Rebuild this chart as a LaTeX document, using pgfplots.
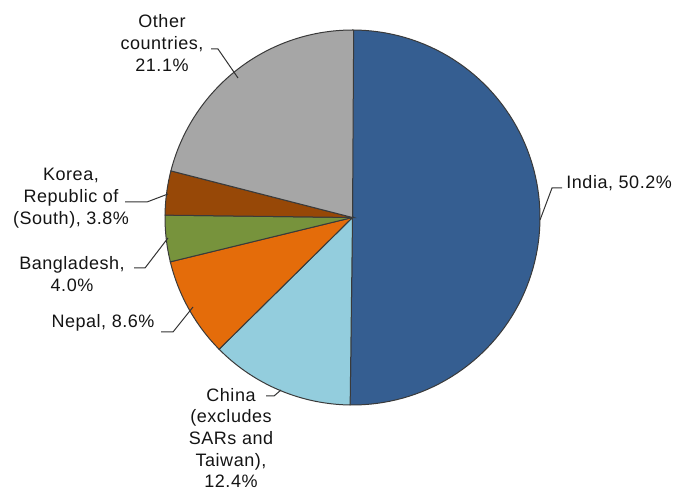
\documentclass[border=0pt]{standalone}
\usepackage{fontspec}
\setmainfont{Liberation Sans}[LetterSpace=3]
\usepackage{pgfplots}
\pgfplotsset{compat=1.18}

\definecolor{cIndia}{HTML}{355E91}
\definecolor{cChina}{HTML}{93CDDD}
\definecolor{cNepal}{HTML}{E46C0A}
\definecolor{cBangla}{HTML}{77933C}
\definecolor{cKorea}{HTML}{974807}
\definecolor{cOther}{HTML}{A6A6A6}
\definecolor{edge}{HTML}{3A3A3A}

% shares in percent
\def\shIndia{50.2}
\def\shChina{12.4}
\def\shNepal{8.6}
\def\shBangla{4.0}
\def\shKorea{3.8}
\def\shOther{21.1}

% cumulative angles, clockwise from the top
\pgfmathsetmacro\aA{90}
\pgfmathsetmacro\aB{\aA-3.6*\shIndia}
\pgfmathsetmacro\aC{\aB-3.6*\shChina}
\pgfmathsetmacro\aD{\aC-3.6*\shNepal}
\pgfmathsetmacro\aE{\aD-3.6*\shBangla}
\pgfmathsetmacro\aF{\aE-3.6*\shKorea}
\pgfmathsetmacro\aG{\aF-3.6*\shOther}

\def\cx{352.5}
\def\cy{275.5}
\def\R{187.5}

\begin{document}
\begin{tikzpicture}
\begin{axis}[
  width=337.5pt, height=246.5pt, scale only axis,
  xmin=0, xmax=675, ymin=0, ymax=493,
  hide axis, clip=false,
]
% fix the picture's extent to the full frame
\path (axis cs:0,0) rectangle (axis cs:675,493);

\addplot[fill=cIndia, draw=edge, line width=0.5pt, domain=\aB:\aA, samples=90, variable=\t]
  ({\cx+\R*cos(\t)},{\cy+\R*sin(\t)}) -- (axis cs:\cx,\cy) -- cycle;
\addplot[fill=cChina, draw=edge, line width=0.5pt, domain=\aC:\aB, samples=40, variable=\t]
  ({\cx+\R*cos(\t)},{\cy+\R*sin(\t)}) -- (axis cs:\cx,\cy) -- cycle;
\addplot[fill=cNepal, draw=edge, line width=0.5pt, domain=\aD:\aC, samples=30, variable=\t]
  ({\cx+\R*cos(\t)},{\cy+\R*sin(\t)}) -- (axis cs:\cx,\cy) -- cycle;
\addplot[fill=cBangla, draw=edge, line width=0.5pt, domain=\aE:\aD, samples=15, variable=\t]
  ({\cx+\R*cos(\t)},{\cy+\R*sin(\t)}) -- (axis cs:\cx,\cy) -- cycle;
\addplot[fill=cKorea, draw=edge, line width=0.5pt, domain=\aF:\aE, samples=15, variable=\t]
  ({\cx+\R*cos(\t)},{\cy+\R*sin(\t)}) -- (axis cs:\cx,\cy) -- cycle;
\addplot[fill=cOther, draw=edge, line width=0.5pt, domain=\aG:\aF, samples=60, variable=\t]
  ({\cx+\R*cos(\t)},{\cy+\R*sin(\t)}) -- (axis cs:\cx,\cy) -- cycle;

% labels
\tikzset{lbl/.style={font=\fontsize{9}{11}\selectfont, align=center, text=black!92, inner sep=0pt}}
\node[lbl] at (axis cs:162,450) {Other\\countries,\\21.1\%};
\node[lbl] at (axis cs:71,295) {Korea,\\Republic of\\(South), 3.8\%};
\node[lbl] at (axis cs:72,219) {Bangladesh,\\4.0\%};
\node[lbl] at (axis cs:103,170) {Nepal, 8.6\%};
\node[lbl, font=\fontsize{9}{10.8}\selectfont] at (axis cs:231,55) {China\\(excludes\\SARs and\\Taiwan),\\12.4\%};
\node[lbl, anchor=west] at (axis cs:566,310) {India, 50.2\%};

% leader lines
\draw[black!80, line width=0.5pt] (axis cs:211,444) -- (axis cs:218,444) -- (axis cs:238,415);
\draw[black!80, line width=0.5pt] (axis cs:125,291) -- (axis cs:147,291) -- (axis cs:168,299);
\draw[black!80, line width=0.5pt] (axis cs:134,225) -- (axis cs:145,225) -- (axis cs:168,255);
\draw[black!80, line width=0.5pt] (axis cs:161,161) -- (axis cs:173,161) -- (axis cs:193,186);
\draw[black!80, line width=0.5pt] (axis cs:266,97) -- (axis cs:274,97) -- (axis cs:281,103);
\draw[black!80, line width=0.5pt] (axis cs:562,305) -- (axis cs:552,305) -- (axis cs:540,273);
\end{axis}
\end{tikzpicture}
\end{document}
